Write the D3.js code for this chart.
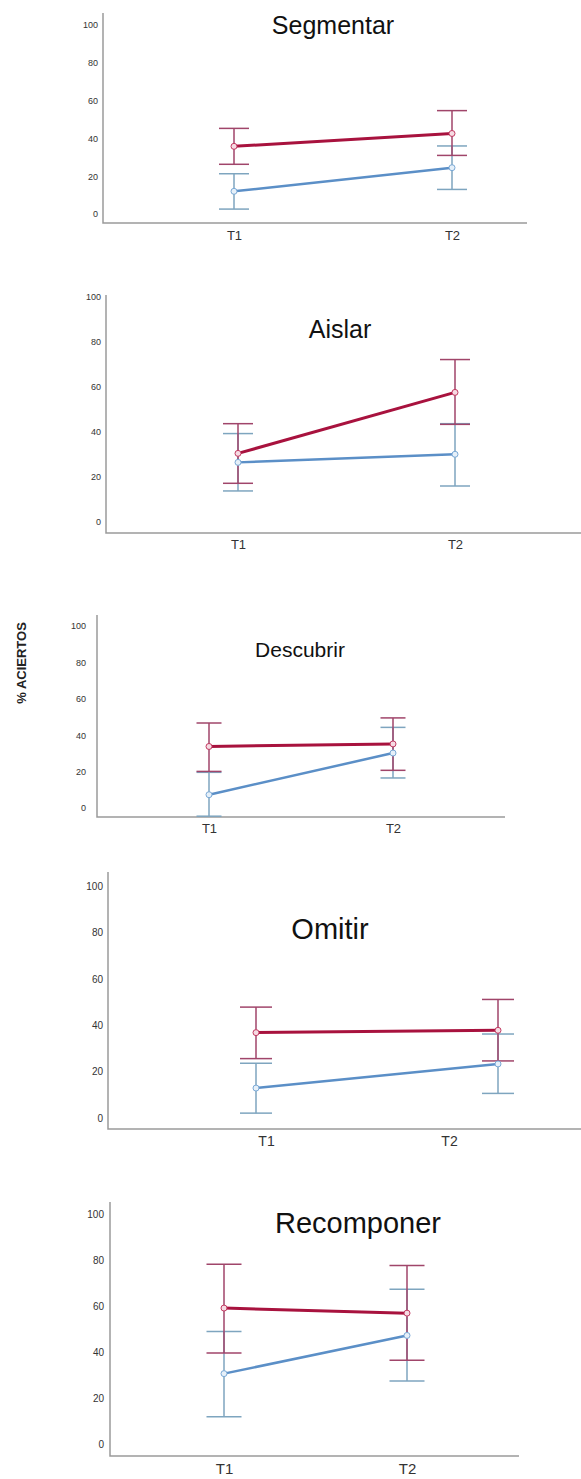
<!DOCTYPE html>
<html lang="es">
<head>
<meta charset="utf-8">
<title>% Aciertos por tarea</title>
<script src="https://cdn.jsdelivr.net/npm/d3@7"></script>
<style>
  body { margin: 0; background: #fff; font-family: "Liberation Sans", Arial, sans-serif; }
  .tick text { fill: #333; }
</style>
</head>
<body>
<div id="vis"></div>
<script>
  // categories and tasks
  const times = ['T1', 'T2'];
  const tasks = ['Segmentar', 'Aislar', 'Descubrir', 'Omitir', 'Recomponer'];
  const yTicks = [0, 20, 40, 60, 80, 100];

  // red group: mean and error bar ends (T1, T2) per task
  const redMean = [[35.8, 42.6], [30.5, 57.6], [33.8, 35.2], [36.8, 37.8], [59.1, 56.9]];
  const redLow  = [[26.3, 31.0], [17.2, 43.4], [20.1, 20.7], [25.6, 24.6], [39.6, 36.4]];
  const redHigh = [[45.3, 54.7], [43.7, 72.2], [46.7, 49.5], [47.8, 51.1], [78.2, 77.6]];

  // blue group
  const blueMean = [[12.0, 24.5], [26.5, 30.1], [7.3, 30.2], [12.9, 23.3], [30.6, 47.2]];
  const blueLow  = [[2.6, 13.0], [13.8, 16.0], [-4.5, 16.5], [2.1, 10.6], [11.9, 27.4]];
  const blueHigh = [[21.3, 36.0], [39.3, 43.7], [19.6, 44.3], [23.6, 36.2], [48.9, 67.3]];

  // panel layout (the reference is a stack of screenshots with different sizes)
  const layout = [
    { ax: 103, top: 13,   bottom: 223,  xEnd: 527, y0: 214,  y100: 25,   x: [234, 452], lx: null,       ly: 237,  tx: 333, ty: 25,   ts: 25, ks: 9,  cs: 13, pad: 5,  cap: 15 },
    { ax: 106, top: 295,  bottom: 533,  xEnd: 581, y0: 522,  y100: 297,  x: [238, 455], lx: null,       ly: 546,  tx: 340, ty: 329,  ts: 25, ks: 9,  cs: 13, pad: 5,  cap: 15 },
    { ax: 97,  top: 615,  bottom: 817,  xEnd: 505, y0: 808,  y100: 626,  x: [209, 393], lx: null,       ly: 830,  tx: 300, ty: 650,  ts: 21, ks: 9,  cs: 13, pad: 11, cap: 12.5 },
    { ax: 108, top: 872,  bottom: 1129, xEnd: 581, y0: 1118, y100: 886,  x: [256, 498], lx: [266, 449], ly: 1143, tx: 330, ty: 929,  ts: 29, ks: 10, cs: 14, pad: 5,  cap: 16 },
    { ax: 110, top: 1202, bottom: 1456, xEnd: 519, y0: 1444, y100: 1214, x: [224, 407], lx: null,       ly: 1471, tx: 358, ty: 1223, ts: 29, ks: 10, cs: 15, pad: 6,  cap: 17.5 }
  ];

  const red = { line: '#a8123e', bar: '#a0456a', fill: '#f6dbe3', mark: '#c23a62' };
  const blue = { line: '#5b8fc7', bar: '#7ea5bf', fill: '#e6f0f9', mark: '#7aa9d6' };

  const svg = d3.select('#vis').append('svg')
    .attr('width', 581)
    .attr('height', 1479);

  // shared y-axis title
  svg.append('text')
    .attr('transform', 'translate(21,663) rotate(-90)')
    .attr('text-anchor', 'middle')
    .attr('dy', '0.35em')
    .style('font-size', '13px')
    .style('font-weight', 'bold')
    .style('fill', '#222')
    .text('% ACIERTOS');

  tasks.forEach((task, i) => {
    const L = layout[i];
    const g = svg.append('g');

    const x = d3.scalePoint().domain(times).range(L.x);
    const xLab = d3.scalePoint().domain(times).range(L.lx || L.x);
    const y = d3.scaleLinear().domain([0, 100]).range([L.y0, L.y100]);

    // y axis labels, no tick marks
    g.append('g')
      .attr('transform', `translate(${L.ax},0)`)
      .call(d3.axisLeft(y).tickValues(yTicks).tickSize(0).tickPadding(L.pad))
      .call(a => a.select('.domain').remove())
      .selectAll('text')
      .style('font-size', L.ks + 'px')
      .style('font-family', '"Liberation Sans", Arial, sans-serif');

    // x axis labels
    g.append('g')
      .attr('transform', `translate(0,${L.ly - L.cs * 0.5})`)
      .call(d3.axisBottom(xLab).tickSize(0).tickPadding(0))
      .call(a => a.select('.domain').remove())
      .selectAll('text')
      .style('font-size', L.cs + 'px')
      .style('font-family', '"Liberation Sans", Arial, sans-serif');

    // axis lines
    g.append('path')
      .attr('d', `M${L.ax},${L.top}V${L.bottom}H${L.xEnd}`)
      .attr('fill', 'none')
      .attr('stroke', '#9a9a9a')
      .attr('stroke-width', 1.5);

    // title
    g.append('text')
      .attr('x', L.tx)
      .attr('y', L.ty)
      .attr('dy', '0.35em')
      .attr('text-anchor', 'middle')
      .style('font-size', L.ts + 'px')
      .style('fill', '#111')
      .text(task);

    const groups = [
      { c: blue, mean: blueMean[i], lo: blueLow[i], hi: blueHigh[i], w: 2.5 },
      { c: red, mean: redMean[i], lo: redLow[i], hi: redHigh[i], w: 3 }
    ];

    // error bars
    groups.forEach(s => {
      const bars = g.append('g')
        .attr('stroke', s.c.bar)
        .attr('stroke-width', 1.5)
        .attr('fill', 'none');
      times.forEach((t, j) => {
        const cx = x(t);
        bars.append('line').attr('x1', cx).attr('x2', cx).attr('y1', y(s.lo[j])).attr('y2', y(s.hi[j]));
        bars.append('line').attr('x1', cx - L.cap).attr('x2', cx + L.cap).attr('y1', y(s.lo[j])).attr('y2', y(s.lo[j]));
        bars.append('line').attr('x1', cx - L.cap).attr('x2', cx + L.cap).attr('y1', y(s.hi[j])).attr('y2', y(s.hi[j]));
      });
    });

    // mean lines and markers
    const line = d3.line().x((d, j) => x(times[j])).y(d => y(d));
    groups.forEach(s => {
      g.append('path')
        .datum(s.mean)
        .attr('d', line)
        .attr('fill', 'none')
        .attr('stroke', s.c.line)
        .attr('stroke-width', s.w);

      g.selectAll(null)
        .data(s.mean)
        .enter()
        .append('circle')
        .attr('cx', (d, j) => x(times[j]))
        .attr('cy', d => y(d))
        .attr('r', 3)
        .attr('fill', s.c.fill)
        .attr('stroke', s.c.mark)
        .attr('stroke-width', 1);
    });
  });
</script>
</body>
</html>
